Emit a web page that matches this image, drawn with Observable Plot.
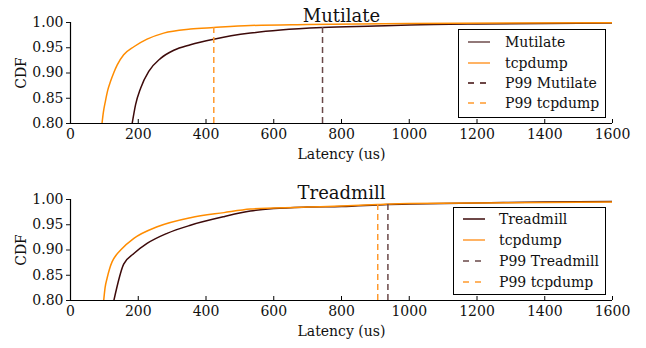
<!DOCTYPE html>
<html>
<head>
<meta charset="utf-8">
<script src="https://cdn.jsdelivr.net/npm/d3@7"></script>
<script src="https://cdn.jsdelivr.net/npm/@observablehq/plot@0.6"></script>
<style>
  body { margin: 0; background: #fff; }
  #wrap { position: relative; width: 646px; height: 348px; font-family: "DejaVu Serif", serif; }
  #wrap svg { display: block; font-family: "DejaVu Serif", serif; }
  .legend { position: absolute; border: 1px solid #000; background: #fff; box-sizing: border-box; }
  .legend .row { position: absolute; left: 0; height: 20px; display: flex; align-items: center; }
  .legend .row span { font-size: 14px; color: #111; white-space: nowrap; font-family: "DejaVu Serif", serif; }
</style>
</head>
<body>
<div id="wrap"></div>
<script>
// ---- data ----
const xTicks = [0, 200, 400, 600, 800, 1000, 1200, 1400, 1600];
const yTicks = [0.80, 0.85, 0.90, 0.95, 1.00];

const mutilateX = [182, 192, 207, 231, 266, 305, 354, 423, 531, 620, 743, 900, 1000, 1200, 1400, 1600];
const mutilateY = [0.800, 0.837, 0.870, 0.903, 0.929, 0.945, 0.956, 0.967, 0.979, 0.985, 0.990, 0.993, 0.995, 0.997, 0.998, 0.999];
const tcpdump1X = [93, 97, 103, 110, 118, 128, 138, 157, 187, 226, 275, 354, 423, 531, 700, 1000, 1300, 1600];
const tcpdump1Y = [0.800, 0.822, 0.844, 0.866, 0.883, 0.901, 0.916, 0.936, 0.952, 0.967, 0.979, 0.987, 0.990, 0.994, 0.996, 0.998, 0.999, 0.9995];
const p99Top = [{name: "P99 Mutilate", x: 744, y: 0.990}, {name: "P99 tcpdump", x: 423, y: 0.990}];

const treadmillX = [128, 157, 187, 226, 285, 354, 453, 531, 600, 700, 800, 937, 1000, 1200, 1400, 1600];
const treadmillY = [0.800, 0.872, 0.893, 0.913, 0.933, 0.949, 0.966, 0.977, 0.982, 0.985, 0.986, 0.990, 0.991, 0.993, 0.995, 0.996];
const tcpdump2X = [98, 102, 108, 115, 123, 135, 148, 187, 256, 354, 453, 531, 600, 700, 800, 907, 1000, 1200, 1400, 1600];
const tcpdump2Y = [0.800, 0.825, 0.844, 0.862, 0.877, 0.890, 0.900, 0.923, 0.946, 0.964, 0.974, 0.981, 0.983, 0.985, 0.987, 0.990, 0.992, 0.993, 0.994, 0.995];
const p99Bottom = [{name: "P99 Treadmill", x: 937, y: 0.990}, {name: "P99 tcpdump", x: 907, y: 0.990}];

const DARK = "#3d0a0a";
const DARK_DASH = "#6a4848";
const ORANGE = "#ff8c00";
const ORANGE_DASH = "#ff9a2e";

function series(xs, ys) { return xs.map((x, i) => ({x, y: ys[i]})); }

function panel({title, a, b, p99, height, marginTop}) {
  const plotH = 101;
  return Plot.plot({
    width: 646,
    height,
    marginTop,
    marginBottom: height - marginTop - plotH,
    marginLeft: 70,
    marginRight: 34,
    style: {fontFamily: "DejaVu Serif, serif", fontSize: "14px", color: "#111", background: "#fff"},
    x: {domain: [0, 1600]},
    y: {domain: [0.80, 1.00]},
    marks: [
      Plot.line(series(...a), {x: "x", y: "y", stroke: DARK, strokeWidth: 1.5, clip: true, curve: "monotone-x"}),
      Plot.line(series(...b), {x: "x", y: "y", stroke: ORANGE, strokeWidth: 1.5, clip: true, curve: "monotone-x"}),
      Plot.ruleX([p99[0]], {x: "x", y1: 0.80, y2: "y", stroke: DARK_DASH, strokeWidth: 1.5, strokeDasharray: "6,4"}),
      Plot.ruleX([p99[1]], {x: "x", y1: 0.80, y2: "y", stroke: ORANGE_DASH, strokeWidth: 1.5, strokeDasharray: "6,4"}),
      Plot.ruleX([0], {stroke: "#000", strokeWidth: 1.2}),
      Plot.ruleY([0.80], {stroke: "#000", strokeWidth: 1.2}),
      Plot.tickX(xTicks, {x: d => d, insetTop: plotH - 4, stroke: "#000"}),
      Plot.axisX({ticks: xTicks, tickSize: 0, tickPadding: 6, tickFormat: d => String(d), fontSize: 14,
        label: "Latency (us)", labelAnchor: "center", labelArrow: "none", labelOffset: 35}),
      Plot.axisY({ticks: yTicks, tickSize: 4, tickPadding: 3, tickFormat: d => d.toFixed(2), fontSize: 14,
        label: "CDF", labelAnchor: "center", labelArrow: "none", labelOffset: 54}),
      Plot.text([title], {text: d => d, frameAnchor: "top", dy: -13, fontSize: 18, fill: "#111"})
    ]
  });
}

const wrap = document.getElementById("wrap");
wrap.appendChild(panel({title: "Mutilate", a: [mutilateX, mutilateY], b: [tcpdump1X, tcpdump1Y], p99: p99Top, height: 170, marginTop: 22}));
wrap.appendChild(panel({title: "Treadmill", a: [treadmillX, treadmillY], b: [tcpdump2X, tcpdump2Y], p99: p99Bottom, height: 178, marginTop: 29}));

function legend(left, top, w, h, sampleX, sampleW, textX, rowYs, items) {
  const div = document.createElement("div");
  div.className = "legend";
  Object.assign(div.style, {left: left + "px", top: top + "px", width: w + "px", height: h + "px"});
  items.forEach((it, i) => {
    const row = document.createElement("div");
    row.className = "row";
    row.style.top = (rowYs[i] - top - 10) + "px";
    const svg = d3.create("svg").attr("width", textX - left).attr("height", 20).style("display", "block");
    svg.append("line").attr("x1", sampleX - left).attr("x2", sampleX - left + sampleW)
      .attr("y1", 10).attr("y2", 10).attr("stroke", it.color).attr("stroke-width", 1.5)
      .attr("stroke-dasharray", it.dash ? "6,6" : null);
    row.appendChild(svg.node());
    const sp = document.createElement("span");
    sp.textContent = it.label;
    row.appendChild(sp);
    div.appendChild(row);
  });
  wrap.appendChild(div);
}

legend(458, 29, 148, 89, 467, 22, 504, [41, 62, 82, 102], [
  {label: "Mutilate", color: "#6e4d4d"},
  {label: "tcpdump", color: "#ff9a30"},
  {label: "P99 Mutilate", color: DARK, dash: true},
  {label: "P99 tcpdump", color: ORANGE_DASH, dash: true}
]);
legend(453, 207, 153, 88, 462, 22, 498, [218, 239, 260, 281], [
  {label: "Treadmill", color: DARK},
  {label: "tcpdump", color: "#ff9a30"},
  {label: "P99 Treadmill", color: DARK_DASH, dash: true},
  {label: "P99 tcpdump", color: ORANGE_DASH, dash: true}
]);
</script>
</body>
</html>
